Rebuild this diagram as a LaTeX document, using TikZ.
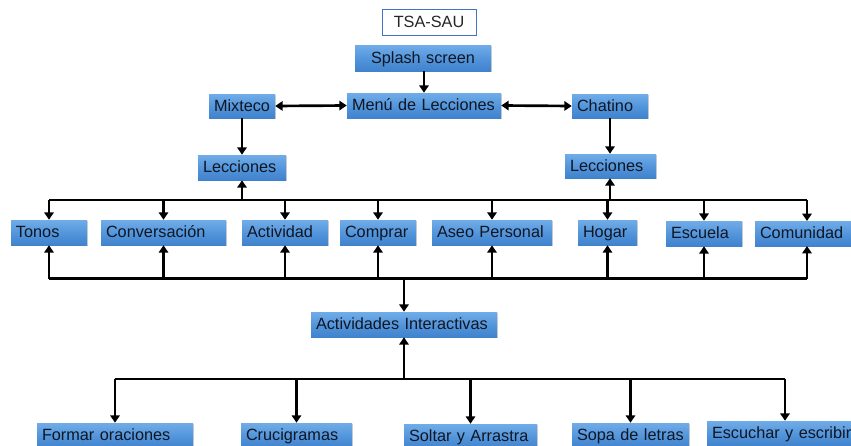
\documentclass[tikz,border=0pt]{standalone}
\usepackage{fontspec}
\setmainfont{Liberation Sans}
\usetikzlibrary{arrows.meta,shadows}

\definecolor{boxtop}{RGB}{112,172,232}
\definecolor{boxmid}{RGB}{84,150,220}
\definecolor{boxbot}{RGB}{64,130,204}
\definecolor{titleedge}{RGB}{68,114,196}
\definecolor{boxtext}{RGB}{16,22,34}

\tikzset{
  tbox/.style={rectangle, top color=boxtop, bottom color=boxbot, middle color=boxmid,
    draw=none, inner xsep=3.75pt, inner ysep=0pt, align=left,
    text height=8.8pt, text depth=0.9pt,
    font=\fontsize{12.2}{14}\selectfont, text=boxtext,
    drop shadow={shadow xshift=1pt, shadow yshift=-1pt, fill=black!40, opacity=0.45}},
  titlebox/.style={rectangle, draw=titleedge, line width=0.6pt, fill=white,
    inner xsep=0pt, inner ysep=0pt, align=center,
    font=\fontsize{12.2}{14}\selectfont, text=black!85},
  link/.style={line width=2pt, black},
  arr/.style={link, -{Triangle[length=5.5pt,width=7pt]}},
  darr/.style={link, {Triangle[length=5.5pt,width=7pt]}-{Triangle[length=5.5pt,width=7pt]}}
}

% box from (x1,y1) to (x2,y2) in pixel units, left-aligned text
\newcommand\boxnode[7][]{%
  \pgfmathsetmacro\bw{(#5-#3)*0.75}%
  \pgfmathsetmacro\bh{(#6-#4)*0.75}%
  \pgfmathsetmacro\tw{\bw-7.5}%
  \node[tbox, minimum width=\bw pt, minimum height=\bh pt, text width=\tw pt, #1]
    (#2) at ({(#3+#5)/2},{(#4+#6)/2}) {#7};}

\begin{document}
\begin{tikzpicture}[x=0.75pt, y=-0.75pt]
\useasboundingbox (0,0) rectangle (851,446);
\clip (0,0) rectangle (851,446);

% title
\node[titlebox, minimum width=70.5pt, minimum height=19.5pt] (title) at (429,22) {TSA-SAU};

% upper part
\boxnode[align=center]{splash}{355}{45}{491}{71}{Splash screen}
\boxnode{menu}{347}{93}{501}{118}{Menú de Lecciones}
\boxnode{mix}{209}{94}{275}{118}{Mixteco}
\boxnode{chat}{572}{94}{648}{118}{Chatino}
\boxnode{lecL}{198}{155}{286}{180}{Lecciones}
\boxnode{lecR}{565}{154}{656}{178}{Lecciones}

% topic row
\boxnode{tonos}{11}{220}{87}{245}{Tonos}
\boxnode{conv}{101}{220}{226}{245}{Conversación}
\boxnode{activ}{242}{220}{328}{245}{Actividad}
\boxnode{compr}{340}{220}{416}{245}{Comprar}
\boxnode{aseo}{432}{220}{552}{245}{Aseo Personal}
\boxnode{hogar}{578}{220}{637}{245}{Hogar}
\boxnode{escuela}{666}{221}{742}{246}{Escuela}
\boxnode{comun}{755}{221}{851}{246}{Comunidad}

% interactive activities
\boxnode{inter}{311}{312}{497}{337}{Actividades Interactivas}

% bottom row
\boxnode{formar}{37}{423}{193}{448}{Formar oraciones}
\boxnode{cruci}{241}{423}{352}{448}{Crucigramas}
\boxnode{soltar}{404}{424}{537}{449}{Soltar y Arrastra}
\boxnode{sopa}{572}{423}{689}{448}{Sopa de letras}
\boxnode{escuchar}{707}{421}{862}{446}{Escuchar y escribir}

% bus lines
\coordinate (busA) at (0,200);
\coordinate (busB) at (0,278.5);
\coordinate (busC) at (0,379);
\coordinate (comunX) at (807,246);
\coordinate (comunT) at (807,221);

% upper connectors
\draw[arr] (splash.south -| 424,0) -- (menu.north -| 424,0);
\draw[darr] (mix.east) -- (menu.west);
\draw[darr] (menu.east) -- (chat.west);
\draw[arr] (mix.south -| 242,0) -- (lecL.north -| 242,0);
\draw[arr] (chat.south -| 610,0) -- (lecR.north -| 610,0);

% top bus: Lecciones <-> topics
\draw[link] (busA -| tonos) -- (busA -| comunT);
\draw[arr] (busA -| 242,0) -- (lecL.south -| 242,0);
\draw[arr] (busA -| 610,0) -- (lecR.south -| 610,0);
\foreach \n in {tonos,conv,activ,compr,aseo,hogar,escuela}
  \draw[arr] (busA -| \n) -- (\n.north);
\draw[arr] (busA -| comunT) -- (comunT);

% middle bus: topics -> interactive activities
\draw[link] (busB -| tonos) -- (busB -| comunX);
\foreach \n in {tonos,conv,activ,compr,aseo,hogar,escuela}
  \draw[arr] (busB -| \n) -- (\n.south);
\draw[arr] (busB -| comunX) -- (comunX);
\draw[arr] (busB -| 404,0) -- (inter.north -| 404,0);

% lower bus: interactive activities <-> games
\draw[link] (busC -| formar) -- (busC -| 785,0);
\draw[arr] (busC -| 404,0) -- (inter.south -| 404,0);
\foreach \n in {formar,cruci,soltar,sopa}
  \draw[arr] (busC -| \n) -- (\n.north);
\draw[arr] (busC -| 785,0) -- (escuchar.north -| 785,0);
\end{tikzpicture}
\end{document}
